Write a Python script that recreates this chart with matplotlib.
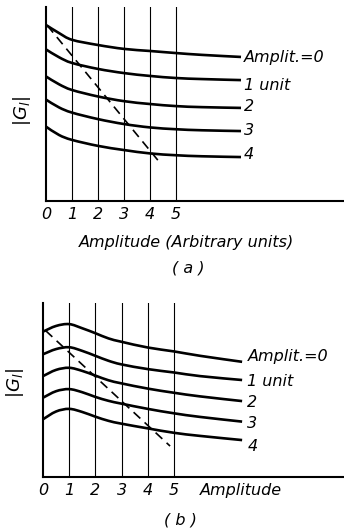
import matplotlib
matplotlib.use("Agg")
import matplotlib.pyplot as plt
from matplotlib.path import Path
from matplotlib.patches import PathPatch

# panel (a): |Gi| curves, one per amplitude
xa = [0, 0.5, 1, 2, 3, 4, 5, 6, 7.5]
curves_a = [
    [6.77, 6.46, 6.20, 6.00, 5.85, 5.77, 5.69, 5.62, 5.54],
    [5.83, 5.53, 5.31, 5.08, 4.92, 4.81, 4.73, 4.69, 4.65],
    [4.79, 4.49, 4.27, 4.02, 3.84, 3.73, 3.65, 3.61, 3.58],
    [3.90, 3.60, 3.40, 3.15, 2.96, 2.83, 2.76, 2.72, 2.69],
    [2.86, 2.54, 2.35, 2.12, 1.96, 1.83, 1.76, 1.72, 1.69],
]
label_y_a = [5.53, 4.46, 3.63, 2.70, 1.78]
dash_a_x = [0.05, 4.4]
dash_a_y = [6.75, 1.45]

# panel (b)
xb = [0, 0.5, 1, 1.5, 2, 2.5, 3, 4, 5, 6, 7.6]
curves_b = [
    [5.59, 5.81, 5.88, 5.72, 5.53, 5.33, 5.20, 4.98, 4.83, 4.66, 4.43],
    [4.72, 4.92, 4.99, 4.85, 4.66, 4.47, 4.33, 4.15, 4.02, 3.88, 3.73],
    [3.88, 4.12, 4.20, 4.08, 3.90, 3.72, 3.60, 3.40, 3.24, 3.10, 2.92],
    [3.05, 3.30, 3.38, 3.26, 3.08, 2.93, 2.82, 2.62, 2.45, 2.31, 2.13],
    [2.22, 2.52, 2.62, 2.50, 2.32, 2.16, 2.05, 1.87, 1.70, 1.58, 1.42],
]
label_y_b = [4.63, 3.67, 2.85, 2.04, 1.19]
dash_b_x = [0.1, 4.85]
dash_b_y = [5.63, 1.19]

curve_labels = ["Amplit.=0", "1 unit", "2", "3", "4"]
ticks = [0, 1, 2, 3, 4, 5]

W, H = 344, 531
fig = plt.figure(figsize=(W / 100, H / 100), dpi=100)
fig.set_facecolor("white")
font = dict(family="DejaVu Sans", style="italic", fontsize=11.5, color="black")


def smooth_path(x, y):
    # cubic bezier through the read points (catmull-rom style handles)
    pts = list(zip(x, y))
    n = len(pts)
    verts = [pts[0]]
    codes = [Path.MOVETO]
    for i in range(n - 1):
        p0 = pts[max(i - 1, 0)]
        p1 = pts[i]
        p2 = pts[i + 1]
        p3 = pts[min(i + 2, n - 1)]
        c1 = (p1[0] + (p2[0] - p0[0]) / 6, p1[1] + (p2[1] - p0[1]) / 6)
        c2 = (p2[0] - (p3[0] - p1[0]) / 6, p2[1] - (p3[1] - p1[1]) / 6)
        verts += [c1, c2, p2]
        codes += [Path.CURVE4] * 3
    return Path(verts, codes)


def panel(rect, xlim, ylim, x, curves, label_x, label_y, dx, dy):
    ax = fig.add_axes(rect)
    ax.set_xlim(*xlim)
    ax.set_ylim(*ylim)
    for s in ["top", "right"]:
        ax.spines[s].set_visible(False)
    ax.spines["left"].set_linewidth(1.5)
    ax.spines["bottom"].set_linewidth(1.5)
    for t in ticks[1:]:
        ax.axvline(t, color="black", lw=0.8)
    for ys, ly, lab in zip(curves, label_y, curve_labels):
        ax.add_patch(PathPatch(smooth_path(x, ys), facecolor="none",
                               edgecolor="black", lw=1.9, capstyle="butt"))
        ax.text(label_x, ly, lab, ha="left", va="center", **font)
    ax.plot(dx, dy, color="black", lw=1.2, ls=(0, (5.5, 3.5)))
    ax.set_xticks(ticks)
    ax.set_xticklabels([str(t) for t in ticks], **font)
    ax.set_yticks([])
    ax.tick_params(axis="x", length=0, pad=4)
    ax.patch.set_alpha(0)
    return ax


panel([46 / W, 1 - 201 / H, 298 / W, 194 / H], (0, 298 / 26), (0, 194 / 26),
      xa, curves_a, 7.62, label_y_a, dash_a_x, dash_a_y)
panel([43 / W, 1 - 477 / H, 301 / W, 174 / H], (0, 301 / 26.2), (0, 174 / 26),
      xb, curves_b, 7.8, label_y_b, dash_b_x, dash_b_y)

fig.text(22 / W, 1 - 111 / H, r"$|G_l|$", rotation=90, ha="center", va="center", fontsize=13)
fig.text(15 / W, 1 - 383 / H, r"$|G_l|$", rotation=90, ha="center", va="center", fontsize=13)

fig.text(186 / W, 1 - 242 / H, "Amplitude (Arbitrary units)", ha="center", va="center", **font)
fig.text(188 / W, 1 - 268 / H, "( a )", ha="center", va="center", **font)
fig.text(200 / W, 1 - 490 / H, "Amplitude", ha="left", va="center", **font)
fig.text(180 / W, 1 - 520 / H, "( b )", ha="center", va="center", **font)

fig.savefig("out.png", dpi=100)
